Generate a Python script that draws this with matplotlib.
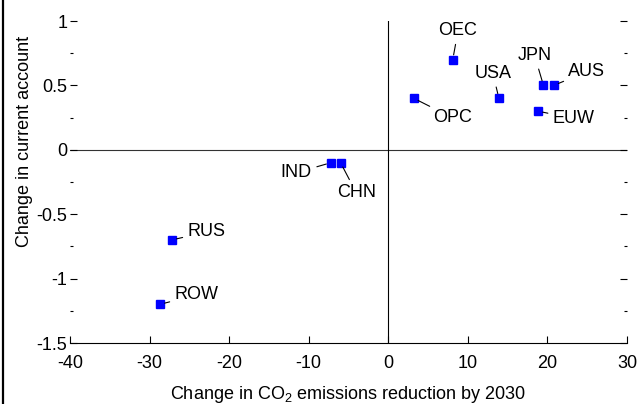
import matplotlib
matplotlib.use("Agg")
import matplotlib.pyplot as plt
from matplotlib.lines import Line2D
from matplotlib.ticker import MultipleLocator, FuncFormatter

plt.rcParams['font.family'] = ['Liberation Sans', 'DejaVu Sans']
plt.rcParams['mathtext.fontset'] = 'custom'
plt.rcParams['mathtext.rm'] = 'Liberation Sans'
plt.rcParams['axes.unicode_minus'] = False

# regions and their changes
regions = ['OEC', 'USA', 'JPN', 'AUS', 'OPC', 'EUW', 'IND', 'CHN', 'RUS', 'ROW']
co2_change = [8.1, 13.9, 19.5, 20.8, 3.2, 18.8, -7.2, -6.0, -27.2, -28.7]
ca_change = [0.70, 0.40, 0.50, 0.50, 0.40, 0.30, -0.10, -0.10, -0.70, -1.20]

# label offsets in points (layout only)
label_offsets = [(3.8, 20.7), (-4.3, 17.8), (-6.3, 21.4), (23.8, 9.9), (27.6, -13.9),
                 (25.9, -5.3), (-24.9, -7.2), (11.3, -21.6), (25, 5.8), (26.4, 6.8)]

fig = plt.figure(figsize=(6.4, 4.04), dpi=100)
ax = fig.add_axes([70/640, 61/404, 557/640, 322/404])

ax.axhline(0, color='#333333', lw=0.8, zorder=1)
ax.axvline(0, color='black', lw=0.8, zorder=1)

ax.plot(co2_change, ca_change, 's', color='#0000ff', ms=5.8, mec='#0000ff', zorder=3)

for name, x, y, off in zip(regions, co2_change, ca_change, label_offsets):
    ax.annotate(name, xy=(x, y), xytext=off, textcoords='offset points',
                ha='center', va='center', fontsize=13,
                bbox=dict(boxstyle='square,pad=0.05', fc='none', ec='none'),
                arrowprops=dict(arrowstyle='-', color='black', lw=0.8,
                                shrinkA=3, shrinkB=3.5))

ax.set_xlim(-40, 30)
ax.set_ylim(-1.5, 1)
ax.xaxis.set_major_locator(MultipleLocator(10))
ax.yaxis.set_major_locator(MultipleLocator(0.5))
ax.yaxis.set_minor_locator(MultipleLocator(0.25))
fmt = FuncFormatter(lambda v, p: '{:g}'.format(round(v, 2)))
ax.xaxis.set_major_formatter(fmt)
ax.yaxis.set_major_formatter(fmt)

for s in ['top', 'left', 'right']:
    ax.spines[s].set_visible(False)
ax.spines['bottom'].set_linewidth(0.8)

ax.tick_params(axis='x', which='major', direction='in', length=5, width=0.8,
               labelsize=13, pad=9)
ax.tick_params(axis='y', which='both', direction='in', left=True, right=True,
               width=0.8, labelsize=13, pad=2)
ax.tick_params(axis='y', which='major', length=5)
ax.tick_params(axis='y', which='minor', length=2)

ax.set_ylabel('Change in current account', fontsize=13)
ax.yaxis.set_label_coords(-0.066, 0.625)
ax.set_xlabel('Change in CO$_\\mathrm{2}$ emissions reduction by 2030', fontsize=13)
ax.xaxis.set_label_coords(0.5, -0.128)

fig.add_artist(Line2D([2.5/640, 2.5/640], [0, 1], color='black', lw=1.6,
                      transform=fig.transFigure))

fig.savefig('out.png', dpi=100)
